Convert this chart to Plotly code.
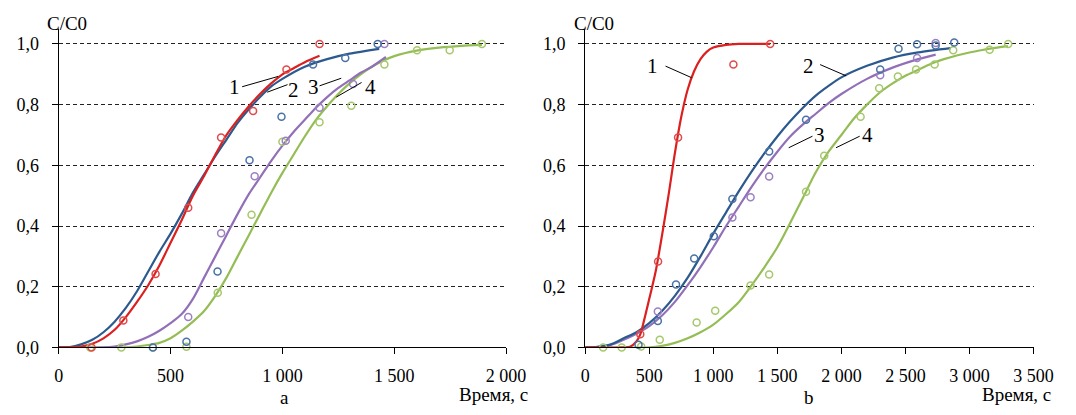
import plotly.graph_objects as go

# ---------------- data: panel a ----------------
a1_px = [147, 289, 433, 579, 726, 869, 1018, 1166]
a1_py = [0.0, 0.089, 0.242, 0.46, 0.692, 0.779, 0.916, 1.0]
a2_px = [421, 571, 710, 853, 996, 1137, 1281, 1426]
a2_py = [0.0, 0.019, 0.25, 0.617, 0.76, 0.932, 0.954, 1.0]
a3_px = [579, 726, 876, 1015, 1166, 1316, 1456]
a3_py = [0.1, 0.376, 0.564, 0.681, 0.79, 0.868, 1.0]
a4_px = [141, 280, 421, 571, 711, 862, 1000, 1166, 1308, 1456, 1602, 1748, 1892]
a4_py = [0.0, 0.0, 0.0, 0.002, 0.18, 0.437, 0.678, 0.742, 0.796, 0.932, 0.979, 0.979, 1.0]

a1_cx = [0, 100, 150, 200, 250, 300, 350, 400, 450, 500, 550, 600, 650, 700, 750, 800, 850, 900, 950, 1000, 1050, 1100, 1166]
a1_cy = [0, 0.003, 0.012, 0.03, 0.058, 0.1, 0.15, 0.205, 0.27, 0.345, 0.42, 0.5, 0.565, 0.635, 0.7, 0.75, 0.795, 0.835, 0.87, 0.9, 0.92, 0.94, 0.961]
a2_cx = [0, 50, 100, 150, 200, 250, 300, 350, 400, 450, 500, 550, 600, 650, 700, 750, 800, 850, 900, 950, 1000, 1100, 1200, 1300, 1433]
a2_cy = [0, 0.001, 0.01, 0.025, 0.05, 0.085, 0.13, 0.185, 0.25, 0.315, 0.375, 0.44, 0.51, 0.57, 0.63, 0.685, 0.74, 0.785, 0.825, 0.86, 0.885, 0.925, 0.95, 0.968, 0.984]
a3_cx = [0, 200, 250, 300, 350, 400, 450, 500, 550, 600, 650, 700, 750, 800, 850, 900, 950, 1000, 1050, 1100, 1150, 1200, 1250, 1300, 1350, 1400, 1463]
a3_cy = [0, 0, 0.003, 0.01, 0.02, 0.035, 0.055, 0.08, 0.11, 0.16, 0.23, 0.3, 0.37, 0.44, 0.505, 0.56, 0.615, 0.665, 0.71, 0.75, 0.79, 0.825, 0.855, 0.88, 0.905, 0.925, 0.957]
a4_cx = [0, 300, 350, 400, 450, 500, 550, 600, 650, 700, 750, 800, 850, 900, 950, 1000, 1050, 1100, 1150, 1200, 1250, 1300, 1350, 1400, 1450, 1500, 1600, 1700, 1800, 1892]
a4_cy = [0, 0, 0.003, 0.008, 0.015, 0.03, 0.055, 0.085, 0.12, 0.17, 0.23, 0.3, 0.37, 0.44, 0.51, 0.575, 0.635, 0.695, 0.75, 0.795, 0.835, 0.87, 0.9, 0.925, 0.945, 0.96, 0.978, 0.988, 0.994, 0.997]

# ---------------- data: panel b ----------------
b1_px = [430, 569, 725, 1157, 1444]
b1_py = [0.043, 0.283, 0.692, 0.932, 1.0]
b2_px = [416, 567, 709, 851, 1004, 1149, 1436, 1724, 2303, 2446, 2591, 2736, 2881]
b2_py = [0.009, 0.087, 0.207, 0.293, 0.366, 0.489, 0.646, 0.75, 0.916, 0.984, 0.999, 0.995, 1.005]
b3_px = [567, 1149, 1291, 1436, 2303, 2591, 2736]
b3_py = [0.118, 0.428, 0.495, 0.563, 0.897, 0.954, 1.003]
b4_px = [140, 285, 437, 582, 870, 1015, 1291, 1436, 1724, 1866, 2150, 2295, 2441, 2583, 2728, 2873, 3157, 3302]
b4_py = [0.0, 0.0, 0.003, 0.025, 0.082, 0.121, 0.204, 0.24, 0.513, 0.632, 0.76, 0.854, 0.893, 0.916, 0.932, 0.979, 0.981, 1.0]

b1_cx = [0, 300, 350, 400, 430, 460, 500, 550, 600, 650, 700, 750, 800, 850, 900, 950, 1000, 1100, 1200, 1444]
b1_cy = [0, 0, 0.002, 0.02, 0.043, 0.09, 0.16, 0.25, 0.37, 0.5, 0.64, 0.76, 0.85, 0.91, 0.95, 0.975, 0.988, 0.997, 1.0, 1.0]
b2_cx = [0, 100, 200, 300, 400, 500, 600, 700, 800, 900, 1000, 1100, 1200, 1300, 1400, 1500, 1600, 1700, 1800, 1900, 2000, 2200, 2400, 2600, 2854]
b2_cy = [0, 0.002, 0.01, 0.03, 0.05, 0.08, 0.12, 0.17, 0.23, 0.3, 0.375, 0.445, 0.515, 0.58, 0.64, 0.695, 0.745, 0.79, 0.83, 0.862, 0.89, 0.928, 0.955, 0.972, 0.986]
b3_cx = [0, 100, 200, 300, 400, 500, 600, 700, 800, 900, 1000, 1100, 1200, 1300, 1400, 1500, 1600, 1700, 1800, 1900, 2000, 2200, 2400, 2600, 2736]
b3_cy = [0, 0.002, 0.008, 0.025, 0.045, 0.07, 0.105, 0.15, 0.205, 0.265, 0.33, 0.4, 0.465, 0.53, 0.59, 0.645, 0.695, 0.735, 0.77, 0.805, 0.835, 0.885, 0.922, 0.95, 0.965]
b4_cx = [0, 500, 600, 700, 800, 900, 1000, 1100, 1200, 1300, 1400, 1500, 1600, 1700, 1800, 1900, 2000, 2100, 2200, 2300, 2400, 2500, 2600, 2700, 2800, 2900, 3000, 3100, 3200, 3300]
b4_cy = [0, 0, 0.005, 0.015, 0.03, 0.05, 0.075, 0.11, 0.15, 0.205, 0.265, 0.33, 0.41, 0.493, 0.577, 0.645, 0.7, 0.755, 0.8, 0.84, 0.87, 0.895, 0.915, 0.935, 0.95, 0.962, 0.972, 0.98, 0.987, 0.993]

# tick labels
y_tickvals = [0, 0.2, 0.4, 0.6, 0.8, 1.0]
y_ticktext = ["0,0", "0,2", "0,4", "0,6", "0,8", "1,0"]
xa_tickvals = [0, 500, 1000, 1500, 2000]
xa_ticktext = ["0", "500", "1 000", "1 500", "2 000"]
xb_tickvals = [0, 500, 1000, 1500, 2000, 2500, 3000, 3500]
xb_ticktext = ["0", "500", "1 000", "1 500", "2 000", "2 500", "3 000", "3 500"]

# curve labels: (text, x, y) and leader lines (x0, y0, x1, y1)
a_labels = [("1", 787, 0.859), ("2", 1048, 0.848), ("3", 1137, 0.857), ("4", 1394, 0.859)]
a_leaders = [(820, 0.859, 981, 0.893), (1023, 0.866, 932, 0.841), (1166, 0.862, 1263, 0.887), (1354, 0.873, 1241, 0.825)]
b_labels = [("1", 522, 0.929), ("2", 1742, 0.929), ("3", 1829, 0.701), ("4", 2201, 0.701)]
b_leaders = [(627, 0.927, 830, 0.889), (1834, 0.932, 2037, 0.895), (1774, 0.696, 1589, 0.658), (2143, 0.696, 1958, 0.658)]

# ---------------- style ----------------
W, H = 1076, 415
FONT = "Liberation Serif, Tinos, Times New Roman, Times, DejaVu Serif, Noto Serif, serif"
line_cols = ["#dc1f1f", "#2c5a8e", "#9270b8", "#95bd55"]
mark_cols = ["#e04a4a", "#4a72a6", "#9c80c2", "#a6c86c"]

fig = go.Figure()

def add_panel(xref, yref, curves, points):
    for i in [3, 2, 1, 0]:
        cx, cy = curves[i]
        fig.add_trace(go.Scatter(x=cx, y=cy, mode="lines", xaxis=xref, yaxis=yref,
                                 line=dict(color=line_cols[i], width=2.2, shape="spline", smoothing=0.8),
                                 showlegend=False, hoverinfo="skip"))
    for i in [3, 2, 1, 0]:
        px, py = points[i]
        fig.add_trace(go.Scatter(x=px, y=py, mode="markers", xaxis=xref, yaxis=yref,
                                 marker=dict(symbol="circle-open", size=7, color=mark_cols[i],
                                             line=dict(width=1.5, color=mark_cols[i])),
                                 showlegend=False, cliponaxis=False))

add_panel("x", "y", [(a1_cx, a1_cy), (a2_cx, a2_cy), (a3_cx, a3_cy), (a4_cx, a4_cy)],
          [(a1_px, a1_py), (a2_px, a2_py), (a3_px, a3_py), (a4_px, a4_py)])
add_panel("x2", "y2", [(b1_cx, b1_cy), (b2_cx, b2_cy), (b3_cx, b3_cy), (b4_cx, b4_cy)],
          [(b1_px, b1_py), (b2_px, b2_py), (b3_px, b3_py), (b4_px, b4_py)])

y_bottom = (H - 356) / H
y_top = (H - 29.5) / H

axis_common = dict(showline=True, linecolor="black", linewidth=1, ticks="outside", ticklen=6,
                   tickcolor="black", tickwidth=1, zeroline=False,
                   tickfont=dict(family=FONT, size=18, color="black"))

fig.update_layout(
    width=W, height=H, margin=dict(l=0, r=0, t=0, b=0),
    paper_bgcolor="white", plot_bgcolor="white",
    font=dict(family=FONT, color="black"),
    xaxis=dict(domain=[55 / W, 513 / W], range=[0, 2000], tickvals=xa_tickvals, ticktext=xa_ticktext,
               showgrid=False, anchor="y", ticklabelstandoff=6, **axis_common),
    yaxis=dict(domain=[y_bottom, y_top], range=[0, 1.05], tickvals=y_tickvals, ticktext=y_ticktext,
               showgrid=True, gridcolor="#222", gridwidth=1, griddash="4px,3px",
               anchor="x", ticklabelstandoff=9, **axis_common),
    xaxis2=dict(domain=[594 / W, 1053 / W], range=[0, 3500], tickvals=xb_tickvals, ticktext=xb_ticktext,
                showgrid=False, anchor="y2", ticklabelstandoff=6, **axis_common),
    yaxis2=dict(domain=[y_bottom, y_top], range=[0, 1.05], tickvals=y_tickvals, ticktext=y_ticktext,
                showgrid=True, gridcolor="#222", gridwidth=1, griddash="4px,3px",
                anchor="x2", ticklabelstandoff=9, **axis_common),
)

annos = []
shapes = []
for (xr, yr, labels, leaders) in [("x", "y", a_labels, a_leaders), ("x2", "y2", b_labels, b_leaders)]:
    for t, x, y in labels:
        annos.append(dict(text=t, x=x, y=y, xref=xr, yref=yr, showarrow=False,
                          font=dict(family=FONT, size=21, color="black")))
    for x0, y0, x1, y1 in leaders:
        shapes.append(dict(type="line", x0=x0, y0=y0, x1=x1, y1=y1, xref=xr, yref=yr,
                           line=dict(color="black", width=1)))

def pa(text, px, py, size, xanchor="center"):
    annos.append(dict(text=text, x=px / W, y=(H - py) / H, xref="paper", yref="paper",
                      showarrow=False, xanchor=xanchor, yanchor="middle",
                      font=dict(family=FONT, size=size, color="black")))

pa("C/C0", 63, 24, 19)
pa("C/C0", 603, 24, 19)
pa("Время, с", 537, 404, 19, "right")
pa("Время, с", 1073, 404, 19, "right")
pa("a", 286, 407, 19)
pa("b", 823, 407, 19)

fig.update_layout(annotations=annos, shapes=shapes)
fig.write_html("out.html")
